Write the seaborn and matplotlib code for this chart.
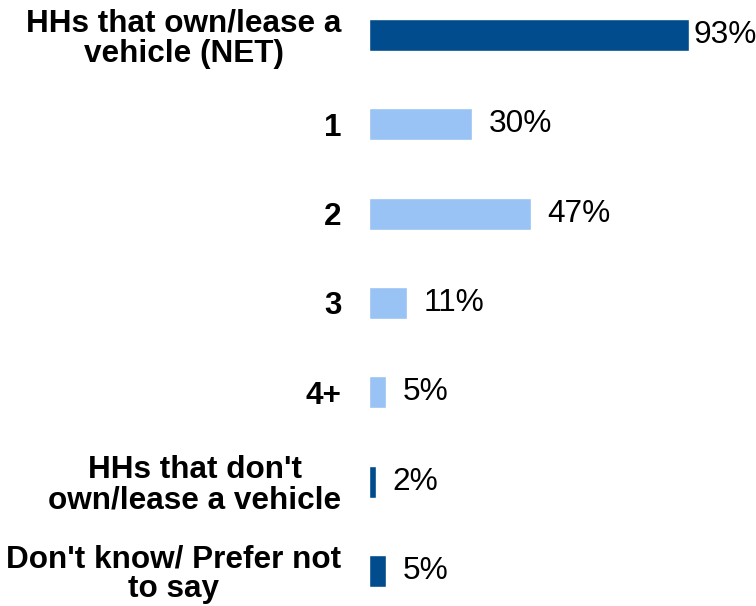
import matplotlib
matplotlib.use("Agg")
import matplotlib.pyplot as plt
import seaborn as sns
import pandas as pd

categories = [
    "HHs that own/lease a\nvehicle (NET)",
    "1",
    "2",
    "3",
    "4+",
    "HHs that don't\nown/lease a vehicle",
    "Don't know/ Prefer not\nto say",
]
values = [93, 30, 47, 11, 5, 2, 5]
groups = ["net", "count", "count", "count", "count", "net", "net"]
palette = {"net": "#004C8C", "count": "#99C2F5"}

sns.set_theme(style="white")
plt.rcParams["font.family"] = ["Liberation Sans", "DejaVu Sans"]
plt.rcParams["text.color"] = "black"
plt.rcParams["ytick.color"] = "black"

df = pd.DataFrame({"category": categories, "value": values, "group": groups})

fig = plt.figure(figsize=(7.56, 6.06), dpi=100)
ax = fig.add_axes([369 / 756, 0, 1 - 369 / 756, 1])

sns.barplot(data=df, x="value", y="category", hue="group", palette=palette,
            order=categories, dodge=False, width=0.36, legend=False,
            saturation=1, ax=ax)

ax.set_xlim(0, 112.5)
ax.set_ylim(6.392, -0.392)
ax.set_xlabel("")
ax.set_ylabel("")
ax.set_xticks([])
sns.despine(ax=ax, left=True, bottom=True)

ax.tick_params(axis="y", length=0, pad=20, labelcolor="black")
for lbl in ax.get_yticklabels():
    lbl.set_fontsize(22.7)
    lbl.set_fontweight("bold")
    lbl.set_multialignment("center")
    lbl.set_linespacing(1.0)

for i, v in enumerate(values):
    pad = 3 if v > 90 else 12
    ax.annotate(f"{v}%", xy=(v, i), xytext=(pad, 0), textcoords="offset points",
                ha="left", va="center", fontsize=22.8, color="black")

fig.savefig("out.png", dpi=100)
